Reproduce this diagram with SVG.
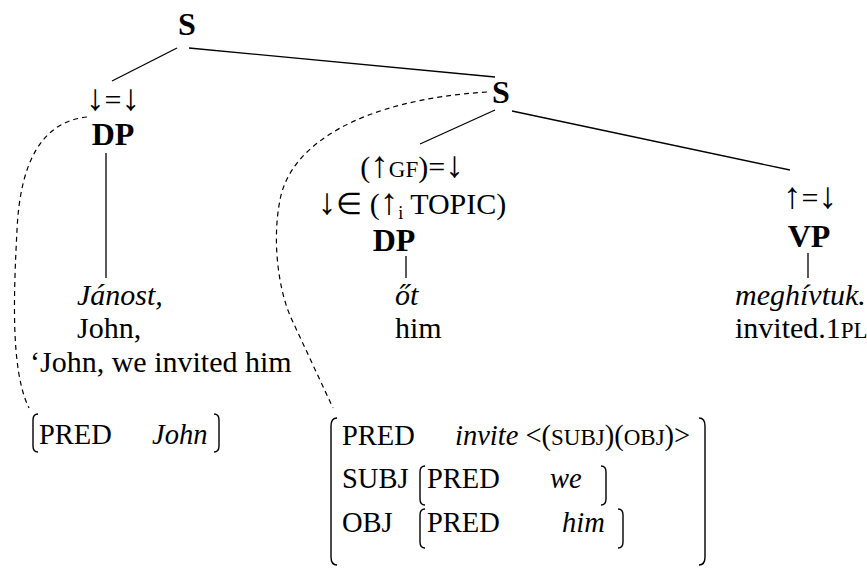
<svg xmlns="http://www.w3.org/2000/svg" width="867" height="568" viewBox="0 0 867 568">
<style>
.t{font-family:"Liberation Serif","Times New Roman",serif;font-size:30px;fill:#000}
.f{font-size:28.5px}
.b{font-weight:bold;font-size:32px}
.i{font-style:italic}
.m{text-anchor:middle}
.sc{font-size:23px}
.ar{font-size:37px}
.edge{stroke:#000;stroke-width:1.3;fill:none}
.dash{stroke:#000;stroke-width:1.2;fill:none;stroke-dasharray:5 4}
.br{stroke:#000;stroke-width:1.4;fill:none}
</style>
<rect width="867" height="568" fill="#fff"/>
<g id="connectors">
<line class="edge" x1="177" y1="48" x2="112" y2="81"/>
<line class="edge" x1="189" y1="48" x2="495" y2="77"/>
<line class="edge" x1="495" y1="110" x2="420" y2="144"/>
<line class="edge" x1="512" y1="111" x2="790" y2="170"/>
<line class="edge" x1="106" y1="153" x2="106" y2="278"/>
<line class="edge" x1="406" y1="256" x2="406" y2="278"/>
<line class="edge" x1="808" y1="253" x2="808" y2="278"/>
<path class="dash" d="M87 117 C40 122 20 165 17 230 C14 290 10 370 29 408"/>
<path class="dash" d="M487 92 C360 100 290 145 280 200 C272 240 278 290 292 320 L333 408"/>
</g>
<g id="node-S-top"><text class="t b m" x="187" y="35">S</text></g>
<g id="node-DP-left">
<text class="t m" x="113" y="110"><tspan class="ar">↓</tspan>=<tspan class="ar">↓</tspan></text>
<text class="t b m" x="113" y="145">DP</text>
</g>
<g id="node-S-right"><text class="t b m" x="501" y="103">S</text></g>
<g id="node-DP-mid">
<text class="t m" x="412" y="177">(<tspan class="ar">↑</tspan><tspan class="sc">GF</tspan>)=<tspan class="ar">↓</tspan></text>
<text class="t m" x="412" y="214"><tspan class="ar">↓</tspan>∈ (<tspan class="ar">↑</tspan><tspan font-size="18" dy="5">i</tspan><tspan dy="-5"> TOPIC)</tspan></text>
<text class="t b m" x="394" y="251">DP</text>
</g>
<g id="node-VP">
<text class="t m" x="810" y="208"><tspan class="ar">↑</tspan>=<tspan class="ar">↓</tspan></text>
<text class="t b m" x="809" y="247">VP</text>
</g>
<g id="leaf-janost">
<text class="t i" x="77" y="305">Jánost,</text>
<text class="t" x="77" y="338">John,</text>
<text class="t" x="30" y="372">‘John, we invited him</text>
</g>
<g id="leaf-ot">
<text class="t i" x="395" y="305">őt</text>
<text class="t" x="395" y="338">him</text>
</g>
<g id="leaf-meghivtuk">
<text class="t i" x="735" y="305">meghívtuk.</text>
<text class="t" x="735" y="338">invited.1<tspan class="sc">PL</tspan></text>
</g>
<g id="fs-john">
<path class="br" d="M38 414 Q33 414 33 420 L33 446 Q33 452 38 452"/>
<path class="br" d="M214 414 Q219 414 219 420 L219 446 Q219 452 214 452"/>
<text class="t f" x="39" y="444">PRED</text>
<text class="t f i" x="152" y="444">John</text>
</g>
<g id="fs-main">
<path class="br" d="M337 418 Q331 418 331 426 L331 557 Q331 565 337 565"/>
<path class="br" d="M699 418 Q705 418 705 426 L705 557 Q705 565 699 565"/>
<text class="t f" x="342" y="445">PRED</text>
<text class="t f" x="455" y="445"><tspan class="i">invite</tspan> &lt;(<tspan class="sc">SUBJ</tspan>)(<tspan class="sc">OBJ</tspan>)&gt;</text>
<text class="t f" x="342" y="488">SUBJ</text>
<path class="br" d="M425 466 Q420 466 420 472 L420 499 Q420 505 425 505"/>
<path class="br" d="M601 466 Q606 466 606 472 L606 499 Q606 505 601 505"/>
<text class="t f" x="427" y="488">PRED</text>
<text class="t f i" x="550" y="488">we</text>
<text class="t f" x="342" y="532">OBJ</text>
<path class="br" d="M425 509 Q420 509 420 515 L420 542 Q420 548 425 548"/>
<path class="br" d="M618 509 Q623 509 623 515 L623 542 Q623 548 618 548"/>
<text class="t f" x="427" y="532">PRED</text>
<text class="t f i" x="562" y="532">him</text>
</g>
</svg>
